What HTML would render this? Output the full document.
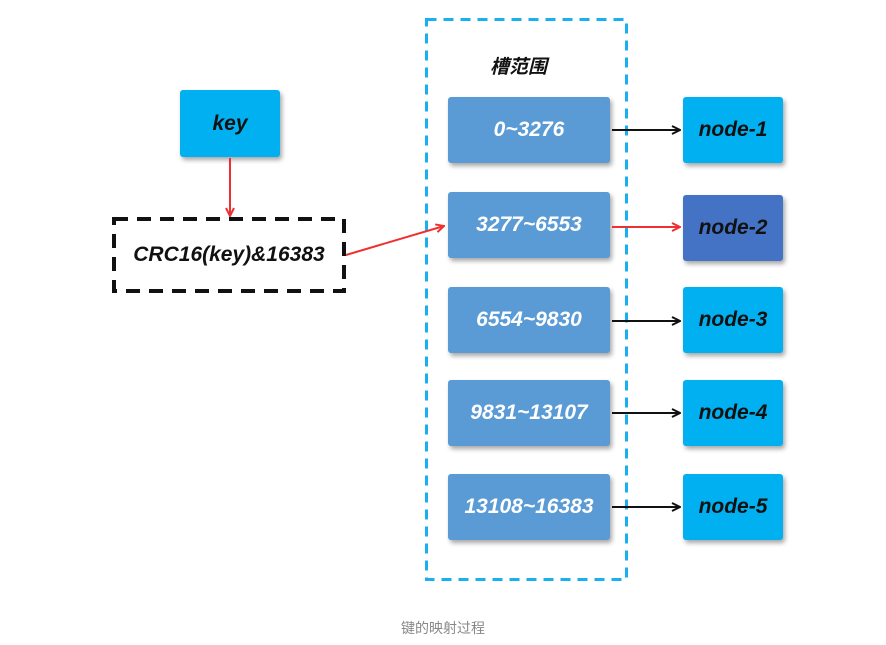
<!DOCTYPE html>
<html><head><meta charset="utf-8"><style>
body{margin:0;width:886px;height:645px;background:#fff;position:relative;overflow:hidden;font-family:"Liberation Sans","Noto Sans CJK SC",sans-serif}
.b{position:absolute;display:flex;align-items:center;justify-content:center;font-weight:bold;font-style:italic;font-size:21px;border-radius:3px;box-shadow:2px 3px 5px rgba(0,0,0,.35)}
.k{background:#00b0f0;color:#111}
.s{background:#5b9bd5;color:#fff;width:162px;height:66px;left:448px}
.n{background:#00b0f0;color:#111;width:100px;height:66px;left:683px}
</style></head><body>
<svg width="886" height="645" style="position:absolute;left:0;top:0">
<rect x="426.5" y="19.5" width="200" height="560" fill="none" stroke="#1ab0ef" stroke-width="3" stroke-dasharray="10,7"/>
<rect x="114" y="219" width="230" height="72" fill="none" stroke="#111" stroke-width="4" stroke-dasharray="14,9"/>
</svg>
<div style="position:absolute;left:490px;top:52px;font-size:19px;font-weight:bold;font-style:italic;color:#111">槽范围</div>
<div class="b k" style="left:180px;top:90px;width:100px;height:67px">key</div>
<div style="position:absolute;left:112px;top:217px;width:234px;height:76px;display:flex;align-items:center;justify-content:center;font-weight:bold;font-style:italic;font-size:21px;color:#111">CRC16(key)&amp;16383</div>
<div class="b s" style="top:97px">0~3276</div>
<div class="b s" style="top:192px">3277~6553</div>
<div class="b s" style="top:287px">6554~9830</div>
<div class="b s" style="top:380px">9831~13107</div>
<div class="b s" style="top:474px">13108~16383</div>
<div class="b n" style="top:97px">node-1</div>
<div class="b n" style="top:195px;background:#4472c4">node-2</div>
<div class="b n" style="top:287px">node-3</div>
<div class="b n" style="top:380px">node-4</div>
<div class="b n" style="top:474px">node-5</div>
<svg width="886" height="645" style="position:absolute;left:0;top:0">
<defs>
<marker id="r" markerWidth="10" markerHeight="10" refX="9" refY="5" orient="auto" markerUnits="userSpaceOnUse"><path d="M1,1 L9,5 L1,9" fill="none" stroke="#f03030" stroke-width="2"/></marker>
<marker id="k" markerWidth="10" markerHeight="10" refX="9" refY="5" orient="auto" markerUnits="userSpaceOnUse"><path d="M1,1 L9,5 L1,9" fill="none" stroke="#111" stroke-width="2"/></marker>
</defs>
<g stroke-width="2" fill="none">
<line x1="230" y1="158" x2="230" y2="216" stroke="#f03030" marker-end="url(#r)"/>
<line x1="346" y1="255" x2="444" y2="226" stroke="#f03030" marker-end="url(#r)"/>
<line x1="612" y1="227" x2="680" y2="227" stroke="#f03030" marker-end="url(#r)"/>
<line x1="612" y1="130" x2="680" y2="130" stroke="#111" marker-end="url(#k)"/>
<line x1="612" y1="321" x2="680" y2="321" stroke="#111" marker-end="url(#k)"/>
<line x1="612" y1="413" x2="680" y2="413" stroke="#111" marker-end="url(#k)"/>
<line x1="612" y1="507" x2="680" y2="507" stroke="#111" marker-end="url(#k)"/>
</g></svg>
<div style="position:absolute;left:0;width:886px;top:618px;text-align:center;font-size:14px;color:#888">键的映射过程</div>
</body></html>
